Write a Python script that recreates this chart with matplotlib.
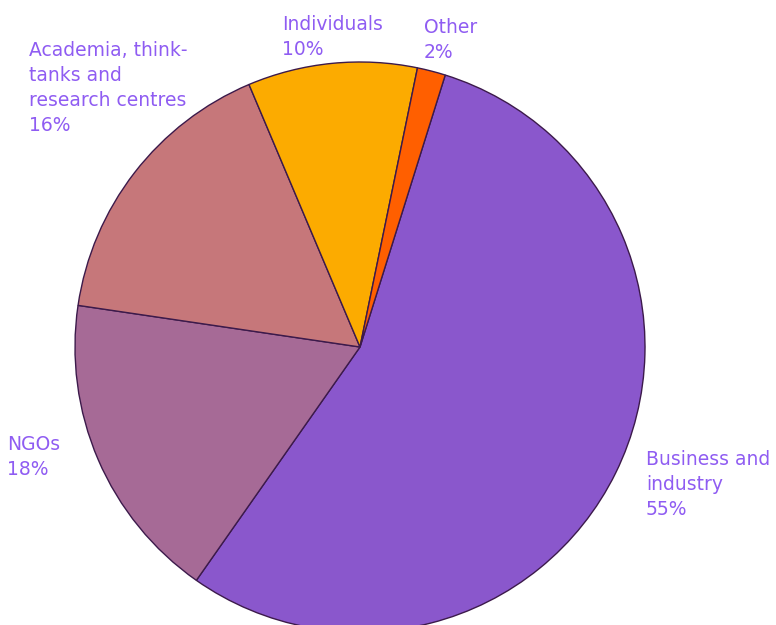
import matplotlib
matplotlib.use("Agg")
import matplotlib.pyplot as plt

categories = ["Business and\nindustry", "NGOs", "Academia, think-\ntanks and\nresearch centres",
              "Individuals", "Other"]
shares = [54.9, 17.6, 16.3, 9.6, 1.6]
pct_labels = ["55%", "18%", "16%", "10%", "2%"]
colors = ["#8a57cc", "#a66a96", "#c6777a", "#fcab00", "#ff5f00"]

# label anchor (top-left, pixel coords from top)
label_pos = [(646, 450), (7, 435), (29, 41), (282, 15), (424, 18)]

TEXT_COLOR = "#8f5cf2"
H = 625

fig = plt.figure(figsize=(7.76, 6.25), dpi=100)
ax = fig.add_axes([0, 0, 1, 1])

ax.pie(
    shares,
    colors=colors,
    startangle=90 - 17.4,
    counterclock=False,
    radius=285,
    center=(360, H - 347),
    wedgeprops=dict(edgecolor="#3c1a4b", linewidth=1.0),
    frame=True,
)
ax.set_xlim(0, 776)
ax.set_ylim(0, H)
ax.set_aspect("equal")
ax.axis("off")

for cat, pct, (x, y) in zip(categories, pct_labels, label_pos):
    ax.text(x, H - y, cat + "\n" + pct, color=TEXT_COLOR, fontsize=13.5,
            family="DejaVu Sans", ha="left", va="top", linespacing=1.4)

fig.savefig("out.png", dpi=100)
